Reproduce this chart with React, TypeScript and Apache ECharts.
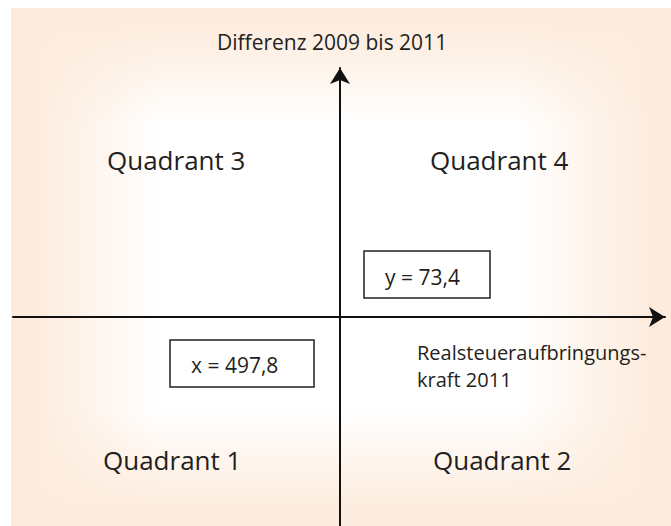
import React, { useEffect, useRef } from "react";
import * as echarts from "echarts";

// Thresholds (values shown in the boxes)
const thresholdX = 497.8;
const thresholdY = 73.4;
// Axis titles
const yAxisTitle = "Differenz 2009 bis 2011";
const xAxisTitleLines = ["Realsteueraufbringungs-", "kraft 2011"];
// Quadrant labels
const quadrantLabels = ["Quadrant 1", "Quadrant 2", "Quadrant 3", "Quadrant 4"];

const fmt = (v: number) => v.toFixed(1).replace(".", ",");

const FONT = "'Open Sans', 'Noto Sans', sans-serif";
const TXT = "#231f20";
const PEACH = "rgba(253,236,222,1)";
const PEACH_MID = "rgba(253,236,222,0.55)";
const PEACH_0 = "rgba(253,236,222,0)";

function grad(x: number, y: number, x2: number, y2: number) {
  return new echarts.graphic.LinearGradient(x, y, x2, y2, [
    { offset: 0, color: PEACH },
    { offset: 0.15, color: PEACH },
    { offset: 0.55, color: PEACH_MID },
    { offset: 1, color: PEACH_0 },
  ]);
}

export default function App() {
  const ref = useRef<HTMLDivElement>(null);
  useEffect(() => {
    document.body.style.margin = "0";
    const chart = echarts.init(ref.current!, null, { renderer: "svg" });
    const W = 671;
    const H = 526;
    const cx = 340;
    const cy = 317;
    const left = 13;
    const right = 665;
    const top = 68;
    const bgL = 11;
    const bgT = 8;
    const txt = (x: number, y: number, text: string, size: number) => ({
      type: "text",
      x,
      y,
      style: {
        text,
        font: `${size}px ${FONT}`,
        fill: TXT,
        textVerticalAlign: "middle",
      },
    });
    chart.setOption({
      animation: false,
      backgroundColor: "#ffffff",
      grid: { left: left, right: W - right, top: top, bottom: 0, containLabel: false },
      xAxis: {
        type: "value",
        min: -(cx - left),
        max: right - cx,
        axisLine: {
          onZero: true,
          symbol: ["none", "arrow"],
          symbolSize: [15, 16],
          lineStyle: { color: "#111", width: 2 },
        },
        axisTick: { show: false },
        axisLabel: { show: false },
        splitLine: { show: false },
      },
      yAxis: {
        type: "value",
        min: -(H - cy),
        max: cy - top,
        axisLine: {
          onZero: true,
          symbol: ["none", "arrow"],
          symbolSize: [15, 16],
          lineStyle: { color: "#111", width: 2 },
        },
        axisTick: { show: false },
        axisLabel: { show: false },
        splitLine: { show: false },
      },
      series: [],
      graphic: [
        {
          type: "rect",
          z: -10,
          shape: { x: bgL, y: bgT, width: 160 - bgL, height: H - bgT },
          style: { fill: grad(0, 0, 1, 0) },
          silent: true,
        },
        {
          type: "rect",
          z: -10,
          shape: { x: 515, y: bgT, width: W - 515, height: H - bgT },
          style: { fill: grad(1, 0, 0, 0) },
          silent: true,
        },
        {
          type: "rect",
          z: -10,
          shape: { x: bgL, y: bgT, width: W - bgL, height: 125 - bgT },
          style: { fill: grad(0, 0, 0, 1) },
          silent: true,
        },
        {
          type: "rect",
          z: -10,
          shape: { x: bgL, y: 410, width: W - bgL, height: H - 410 },
          style: { fill: grad(0, 1, 0, 0) },
          silent: true,
        },
        txt(217, 42, yAxisTitle, 21),
        txt(107, 160, quadrantLabels[2], 26),
        txt(430, 160, quadrantLabels[3], 26),
        txt(103, 460, quadrantLabels[0], 26),
        txt(433, 460, quadrantLabels[1], 26),
        txt(417, 352, xAxisTitleLines[0], 20),
        txt(417, 379.5, xAxisTitleLines[1], 20),
        {
          type: "rect",
          shape: { x: 364, y: 251, width: 126, height: 47 },
          style: { fill: "#ffffff", stroke: "#222", lineWidth: 1.5 },
        },
        txt(385, 277, "y = " + fmt(thresholdY), 21),
        {
          type: "rect",
          shape: { x: 170, y: 340, width: 144, height: 47 },
          style: { fill: "#ffffff", stroke: "#222", lineWidth: 1.5 },
        },
        txt(191, 365, "x = " + fmt(thresholdX), 21),
      ],
    });
    return () => chart.dispose();
  }, []);
  return (
    <div
      ref={ref}
      style={{ position: "absolute", left: 0, top: 0, width: 671, height: 526 }}
    />
  );
}
